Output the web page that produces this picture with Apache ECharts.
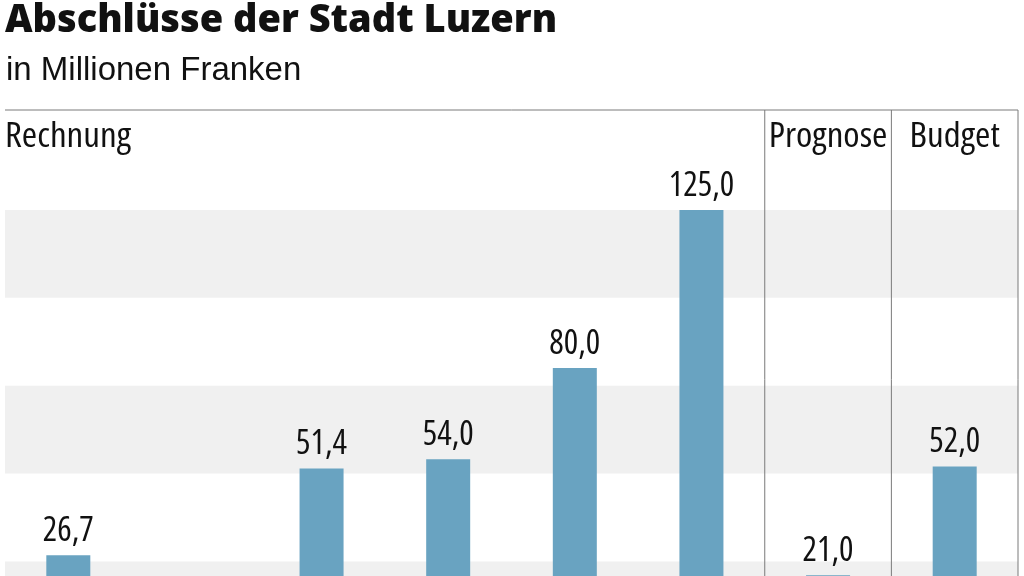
<!DOCTYPE html>
<html>
<head>
<meta charset="utf-8">
<script src="https://cdn.jsdelivr.net/npm/echarts@6/dist/echarts.min.js"></script>
<style>
html,body{margin:0;padding:0;overflow:hidden;background:#fff;}
#c{width:1024px;height:700px;}
</style>
</head>
<body>
<div id="c"></div>
<script>
// Data (the second bar is cut off below the visible area)
const categories = ['2018', '2019', '2020', '2021', '2022', '2023', '2024', '2025'];
const values = [26.7, null, 51.4, 54.0, 80.0, 125.0, 21.0, 52.0];
const sections = [
  { name: 'Rechnung', from: 0, to: 5, align: 'left' },
  { name: 'Prognose', from: 6, to: 6, align: 'center' },
  { name: 'Budget', from: 7, to: 7, align: 'center' }
];
const title = 'Abschlüsse der Stadt Luzern';
const subtitle = 'in Millionen Franken';

const chart = echarts.init(document.getElementById('c'));
chart.setOption({
  animation: false,
  grid: { left: 5, right: 6, top: 210, bottom: 51 },
  xAxis: {
    type: 'category',
    data: categories,
    axisLine: { show: false },
    axisTick: { show: false },
    axisLabel: { fontFamily: "'Open Sans'", fontWeight: 'condensed', fontSize: 28, color: '#111' }
  },
  yAxis: {
    type: 'value',
    min: 0, max: 125, interval: 25,
    axisLabel: { show: false },
    axisLine: { show: false },
    axisTick: { show: false },
    splitLine: { show: false },
    splitArea: { show: true, areaStyle: { color: ['#f0f0f0', '#ffffff'] } }
  },
  series: [{
    type: 'bar',
    data: values,
    barWidth: 44,
    itemStyle: { color: '#69a3c1' },
    label: {
      show: true,
      position: 'top',
      distance: 7,
      fontStyle: 'normal',
      fontWeight: 'condensed',
      fontFamily: "'Open Sans'",
      fontSize: 34,
      color: '#111',
      formatter: p => p.value == null ? '' : p.value.toFixed(1).replace('.', ',')
    }
  }]
});

function boundary(i, side) {
  const c0 = chart.convertToPixel({ xAxisIndex: 0 }, categories[0]);
  const c1 = chart.convertToPixel({ xAxisIndex: 0 }, categories[1]);
  const bw = c1 - c0;
  const c = chart.convertToPixel({ xAxisIndex: 0 }, categories[i]);
  return side === 'left' ? c - bw / 2 : c + bw / 2;
}
const bottomY = chart.convertToPixel({ yAxisIndex: 0 }, 0);
const topLineY = 110;
const left = boundary(0, 'left');
const right = boundary(categories.length - 1, 'right');
const lineStyle = { stroke: '#7a7a7a', lineWidth: 1 };
const g = [];
g.push({ type: 'text', x: 5, y: 2, style: { text: title, font: "800 38px 'Open Sans'", fill: '#111' } });
g.push({ type: 'text', x: 6, y: 54, style: { text: subtitle, font: "33px 'Liberation Sans'", fill: '#111' } });
g.push({ type: 'line', shape: { x1: left, y1: topLineY, x2: right, y2: topLineY }, style: lineStyle, z: 10 });
g.push({ type: 'line', shape: { x1: right, y1: topLineY, x2: right, y2: bottomY }, style: lineStyle, z: 10 });
sections.forEach((s, k) => {
  const l = boundary(s.from, 'left');
  const r = boundary(s.to, 'right');
  if (k > 0) g.push({ type: 'line', shape: { x1: l, y1: topLineY, x2: l, y2: bottomY }, style: lineStyle, z: 10 });
  g.push({ type: 'text', x: s.align === 'left' ? l : (l + r) / 2, y: 120, scaleX: 1.09,
    style: { text: s.name, font: "condensed 34px 'Open Sans'", fill: '#111', textAlign: s.align }, z: 10 });
});
chart.setOption({ graphic: g });
</script>
</body>
</html>
